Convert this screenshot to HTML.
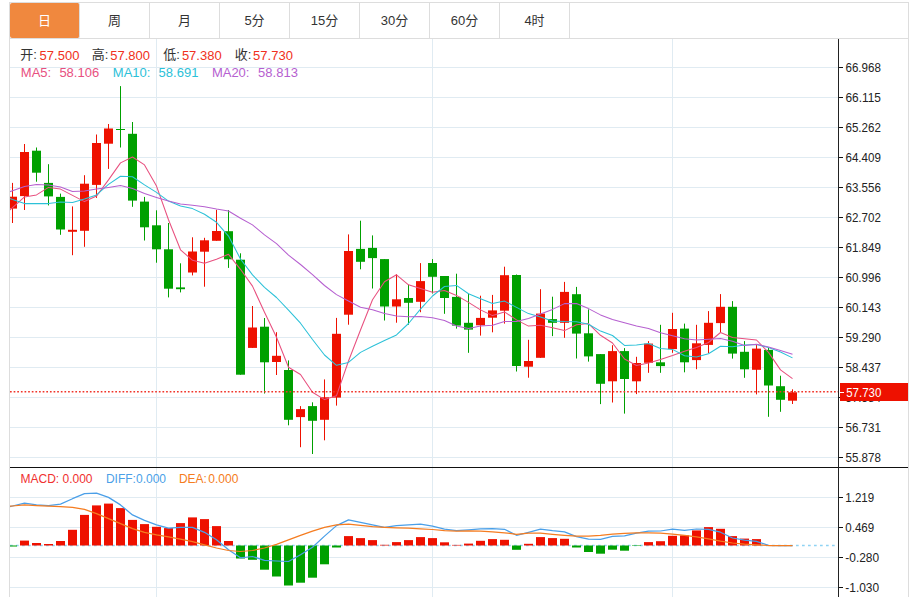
<!DOCTYPE html>
<html lang="zh"><head><meta charset="utf-8"><title>K线图</title>
<style>
html,body{margin:0;padding:0;background:#fff;}
body{width:914px;height:597px;position:relative;overflow:hidden;font-family:"Liberation Sans","Noto Sans CJK SC",sans-serif;}
#frame{position:absolute;left:9px;top:2px;width:898px;height:600px;border:1px solid #ddd;box-sizing:content-box;}
#tabs{position:absolute;left:10px;top:3px;width:898px;height:35px;border-bottom:1px solid #ddd;display:flex;}
#tabs div{width:69px;height:35px;border-right:1px solid #ddd;font-size:13px;line-height:35px;text-align:center;color:#333;}
#tabs div.on{background:#f0883e;color:#fff;border-radius:2px;}
</style></head><body>
<div id="frame"></div>
<div id="tabs"><div class="on">日</div><div>周</div><div>月</div><div>5分</div><div>15分</div><div>30分</div><div>60分</div><div>4时</div></div>
<svg width="914" height="597" viewBox="0 0 914 597" style="position:absolute;left:0;top:0">
<defs><clipPath id="cm"><rect x="10" y="39" width="828" height="428"/></clipPath><clipPath id="cd"><rect x="10" y="468" width="828" height="129"/></clipPath></defs>
<g shape-rendering="crispEdges" stroke="#e0ebf2" stroke-width="1">
<line x1="10" x2="838" y1="67.5" y2="67.5"/>
<line x1="10" x2="838" y1="97.5" y2="97.5"/>
<line x1="10" x2="838" y1="127.5" y2="127.5"/>
<line x1="10" x2="838" y1="157.5" y2="157.5"/>
<line x1="10" x2="838" y1="187.5" y2="187.5"/>
<line x1="10" x2="838" y1="217.5" y2="217.5"/>
<line x1="10" x2="838" y1="247.5" y2="247.5"/>
<line x1="10" x2="838" y1="277.5" y2="277.5"/>
<line x1="10" x2="838" y1="307.5" y2="307.5"/>
<line x1="10" x2="838" y1="337.5" y2="337.5"/>
<line x1="10" x2="838" y1="367.5" y2="367.5"/>
<line x1="10" x2="838" y1="397.5" y2="397.5"/>
<line x1="10" x2="838" y1="427.5" y2="427.5"/>
<line x1="10" x2="838" y1="457.5" y2="457.5"/>
<line x1="10" x2="838" y1="497.5" y2="497.5"/>
<line x1="10" x2="838" y1="527.5" y2="527.5"/>
<line x1="10" x2="838" y1="557.5" y2="557.5"/>
<line x1="10" x2="838" y1="587.5" y2="587.5"/>
<line x1="156.5" x2="156.5" y1="39" y2="597"/>
<line x1="432.5" x2="432.5" y1="39" y2="597"/>
<line x1="672.5" x2="672.5" y1="39" y2="597"/>
</g>
<g clip-path="url(#cm)">
<rect x="12.0" y="182.9" width="1" height="40.1" fill="#ee1100"/>
<rect x="8.0" y="196.7" width="9" height="11.9" fill="#ee1100"/>
<rect x="24.0" y="144.0" width="1" height="66.0" fill="#ee1100"/>
<rect x="20.0" y="152.0" width="9" height="44.1" fill="#ee1100"/>
<rect x="36.0" y="147.5" width="1" height="34.2" fill="#00a000"/>
<rect x="32.0" y="150.7" width="9" height="22.0" fill="#00a000"/>
<rect x="48.0" y="164.2" width="1" height="41.2" fill="#00a000"/>
<rect x="44.0" y="182.9" width="9" height="13.5" fill="#00a000"/>
<rect x="60.0" y="193.6" width="1" height="41.2" fill="#00a000"/>
<rect x="56.0" y="196.9" width="9" height="32.6" fill="#00a000"/>
<rect x="72.0" y="206.4" width="1" height="48.8" fill="#ee1100"/>
<rect x="68.0" y="229.8" width="9" height="2.0" fill="#ee1100"/>
<rect x="84.0" y="175.2" width="1" height="71.6" fill="#ee1100"/>
<rect x="80.0" y="183.7" width="9" height="47.1" fill="#ee1100"/>
<rect x="96.0" y="134.5" width="1" height="63.4" fill="#ee1100"/>
<rect x="92.0" y="143.0" width="9" height="41.9" fill="#ee1100"/>
<rect x="108.0" y="124.0" width="1" height="44.9" fill="#ee1100"/>
<rect x="104.0" y="128.5" width="9" height="15.2" fill="#ee1100"/>
<rect x="120.0" y="86.1" width="1" height="61.4" fill="#00a000"/>
<rect x="116.0" y="129.0" width="9" height="1.0" fill="#00a000"/>
<rect x="132.0" y="122.0" width="1" height="84.8" fill="#00a000"/>
<rect x="128.0" y="133.8" width="9" height="66.8" fill="#00a000"/>
<rect x="144.0" y="196.9" width="1" height="43.6" fill="#00a000"/>
<rect x="140.0" y="201.6" width="9" height="25.7" fill="#00a000"/>
<rect x="156.0" y="210.3" width="1" height="52.4" fill="#00a000"/>
<rect x="152.0" y="225.3" width="9" height="24.0" fill="#00a000"/>
<rect x="168.0" y="223.0" width="1" height="74.4" fill="#00a000"/>
<rect x="164.0" y="249.3" width="9" height="39.4" fill="#00a000"/>
<rect x="180.0" y="263.3" width="1" height="29.1" fill="#00a000"/>
<rect x="176.0" y="287.4" width="9" height="1.8" fill="#00a000"/>
<rect x="192.0" y="237.3" width="1" height="38.1" fill="#ee1100"/>
<rect x="188.0" y="251.5" width="9" height="21.0" fill="#ee1100"/>
<rect x="204.0" y="237.8" width="1" height="48.9" fill="#ee1100"/>
<rect x="200.0" y="240.3" width="9" height="11.4" fill="#ee1100"/>
<rect x="216.0" y="209.8" width="1" height="31.0" fill="#ee1100"/>
<rect x="212.0" y="231.0" width="9" height="9.8" fill="#ee1100"/>
<rect x="228.0" y="210.0" width="1" height="57.9" fill="#00a000"/>
<rect x="224.0" y="231.2" width="9" height="28.1" fill="#00a000"/>
<rect x="240.0" y="253.3" width="1" height="121.4" fill="#00a000"/>
<rect x="236.0" y="259.7" width="9" height="115.0" fill="#00a000"/>
<rect x="252.0" y="306.0" width="1" height="41.9" fill="#ee1100"/>
<rect x="248.0" y="327.5" width="9" height="20.4" fill="#ee1100"/>
<rect x="264.0" y="318.0" width="1" height="75.5" fill="#00a000"/>
<rect x="260.0" y="326.7" width="9" height="35.6" fill="#00a000"/>
<rect x="276.0" y="332.2" width="1" height="42.8" fill="#ee1100"/>
<rect x="272.0" y="355.8" width="9" height="6.2" fill="#ee1100"/>
<rect x="288.0" y="360.4" width="1" height="64.9" fill="#00a000"/>
<rect x="284.0" y="370.0" width="9" height="49.8" fill="#00a000"/>
<rect x="300.0" y="406.1" width="1" height="41.1" fill="#ee1100"/>
<rect x="296.0" y="409.1" width="9" height="8.0" fill="#ee1100"/>
<rect x="312.0" y="402.3" width="1" height="51.7" fill="#00a000"/>
<rect x="308.0" y="406.1" width="9" height="14.7" fill="#00a000"/>
<rect x="324.0" y="379.4" width="1" height="60.9" fill="#ee1100"/>
<rect x="320.0" y="397.3" width="9" height="22.5" fill="#ee1100"/>
<rect x="336.0" y="317.9" width="1" height="87.7" fill="#ee1100"/>
<rect x="332.0" y="333.8" width="9" height="63.8" fill="#ee1100"/>
<rect x="348.0" y="234.4" width="1" height="90.3" fill="#ee1100"/>
<rect x="344.0" y="251.0" width="9" height="63.7" fill="#ee1100"/>
<rect x="360.0" y="220.7" width="1" height="48.6" fill="#00a000"/>
<rect x="356.0" y="248.9" width="9" height="12.9" fill="#00a000"/>
<rect x="372.0" y="235.4" width="1" height="53.1" fill="#00a000"/>
<rect x="368.0" y="247.9" width="9" height="10.2" fill="#00a000"/>
<rect x="384.0" y="259.1" width="1" height="61.4" fill="#00a000"/>
<rect x="380.0" y="259.1" width="9" height="47.4" fill="#00a000"/>
<rect x="396.0" y="274.3" width="1" height="48.4" fill="#ee1100"/>
<rect x="392.0" y="299.3" width="9" height="7.2" fill="#ee1100"/>
<rect x="408.0" y="284.8" width="1" height="39.9" fill="#00a000"/>
<rect x="404.0" y="298.0" width="9" height="4.8" fill="#00a000"/>
<rect x="420.0" y="263.1" width="1" height="49.1" fill="#ee1100"/>
<rect x="416.0" y="281.1" width="9" height="20.7" fill="#ee1100"/>
<rect x="432.0" y="259.1" width="1" height="34.4" fill="#00a000"/>
<rect x="428.0" y="263.0" width="9" height="13.8" fill="#00a000"/>
<rect x="444.0" y="276.0" width="1" height="37.8" fill="#00a000"/>
<rect x="440.0" y="276.0" width="9" height="22.0" fill="#00a000"/>
<rect x="456.0" y="273.7" width="1" height="54.9" fill="#00a000"/>
<rect x="452.0" y="296.9" width="9" height="28.7" fill="#00a000"/>
<rect x="468.0" y="293.7" width="1" height="59.1" fill="#00a000"/>
<rect x="464.0" y="322.8" width="9" height="6.8" fill="#00a000"/>
<rect x="480.0" y="295.7" width="1" height="39.9" fill="#ee1100"/>
<rect x="476.0" y="317.9" width="9" height="7.4" fill="#ee1100"/>
<rect x="492.0" y="294.9" width="1" height="37.4" fill="#ee1100"/>
<rect x="488.0" y="310.4" width="9" height="7.3" fill="#ee1100"/>
<rect x="504.0" y="266.7" width="1" height="56.9" fill="#ee1100"/>
<rect x="500.0" y="275.2" width="9" height="35.5" fill="#ee1100"/>
<rect x="516.0" y="274.5" width="1" height="97.0" fill="#00a000"/>
<rect x="512.0" y="275.0" width="9" height="91.0" fill="#00a000"/>
<rect x="528.0" y="339.8" width="1" height="37.9" fill="#ee1100"/>
<rect x="524.0" y="361.0" width="9" height="5.7" fill="#ee1100"/>
<rect x="540.0" y="289.2" width="1" height="68.6" fill="#ee1100"/>
<rect x="536.0" y="313.6" width="9" height="44.2" fill="#ee1100"/>
<rect x="552.0" y="296.7" width="1" height="39.4" fill="#00a000"/>
<rect x="548.0" y="319.1" width="9" height="3.7" fill="#00a000"/>
<rect x="564.0" y="281.9" width="1" height="55.9" fill="#ee1100"/>
<rect x="560.0" y="291.9" width="9" height="30.9" fill="#ee1100"/>
<rect x="576.0" y="286.9" width="1" height="71.6" fill="#00a000"/>
<rect x="572.0" y="294.2" width="9" height="39.4" fill="#00a000"/>
<rect x="588.0" y="309.4" width="1" height="52.2" fill="#00a000"/>
<rect x="584.0" y="333.3" width="9" height="23.1" fill="#00a000"/>
<rect x="600.0" y="354.0" width="1" height="50.1" fill="#00a000"/>
<rect x="596.0" y="354.1" width="9" height="29.7" fill="#00a000"/>
<rect x="612.0" y="345.2" width="1" height="57.3" fill="#ee1100"/>
<rect x="608.0" y="351.1" width="9" height="30.2" fill="#ee1100"/>
<rect x="624.0" y="348.1" width="1" height="65.5" fill="#00a000"/>
<rect x="620.0" y="351.1" width="9" height="27.9" fill="#00a000"/>
<rect x="636.0" y="356.8" width="1" height="37.3" fill="#ee1100"/>
<rect x="632.0" y="363.0" width="9" height="18.3" fill="#ee1100"/>
<rect x="648.0" y="341.1" width="1" height="31.7" fill="#ee1100"/>
<rect x="644.0" y="343.6" width="9" height="19.2" fill="#ee1100"/>
<rect x="660.0" y="324.8" width="1" height="48.0" fill="#00a000"/>
<rect x="656.0" y="362.3" width="9" height="3.8" fill="#00a000"/>
<rect x="672.0" y="312.8" width="1" height="40.0" fill="#ee1100"/>
<rect x="668.0" y="329.0" width="9" height="20.1" fill="#ee1100"/>
<rect x="684.0" y="323.6" width="1" height="48.7" fill="#00a000"/>
<rect x="680.0" y="328.6" width="9" height="33.7" fill="#00a000"/>
<rect x="696.0" y="324.8" width="1" height="44.4" fill="#ee1100"/>
<rect x="692.0" y="343.3" width="9" height="16.8" fill="#ee1100"/>
<rect x="708.0" y="311.1" width="1" height="41.9" fill="#ee1100"/>
<rect x="704.0" y="322.8" width="9" height="22.1" fill="#ee1100"/>
<rect x="720.0" y="294.1" width="1" height="38.2" fill="#ee1100"/>
<rect x="716.0" y="306.8" width="9" height="16.3" fill="#ee1100"/>
<rect x="732.0" y="301.1" width="1" height="57.5" fill="#00a000"/>
<rect x="728.0" y="306.8" width="9" height="46.8" fill="#00a000"/>
<rect x="744.0" y="341.1" width="1" height="36.7" fill="#00a000"/>
<rect x="740.0" y="351.8" width="9" height="17.5" fill="#00a000"/>
<rect x="756.0" y="344.9" width="1" height="49.5" fill="#ee1100"/>
<rect x="752.0" y="348.6" width="9" height="21.2" fill="#ee1100"/>
<rect x="768.0" y="348.0" width="1" height="68.8" fill="#00a000"/>
<rect x="764.0" y="349.9" width="9" height="35.6" fill="#00a000"/>
<rect x="780.0" y="375.7" width="1" height="36.1" fill="#00a000"/>
<rect x="776.0" y="386.2" width="9" height="13.6" fill="#00a000"/>
<rect x="792.0" y="389.3" width="1" height="14.7" fill="#ee1100"/>
<rect x="788.0" y="392.3" width="9" height="8.4" fill="#ee1100"/>
</g>
<g clip-path="url(#cm)">
<polyline points="0.5,218.3 12.5,207.6 24.5,196.9 36.5,194.9 48.5,187.4 60.5,189.1 72.5,195.4 84.5,201.6 96.5,196.1 108.5,179.9 120.5,162.9 132.5,157.0 144.5,164.9 156.5,186.1 168.5,219.8 180.5,249.8 192.5,260.3 204.5,263.3 216.5,259.2 228.5,254.3 240.5,269.3 252.5,286.1 264.5,312.3 276.5,337.3 288.5,367.3 300.5,374.5 312.5,392.3 324.5,399.6 336.5,395.7 348.5,361.0 360.5,330.0 372.5,299.8 384.5,281.8 396.5,274.8 408.5,284.8 420.5,288.5 432.5,292.3 444.5,290.5 456.5,295.4 468.5,302.4 480.5,309.9 492.5,315.6 504.5,311.9 516.5,319.9 528.5,326.1 540.5,325.3 552.5,327.8 564.5,330.6 576.5,324.8 588.5,323.6 600.5,335.3 612.5,343.0 624.5,359.0 636.5,365.5 648.5,363.0 660.5,359.4 672.5,355.5 684.5,351.2 696.5,347.5 708.5,342.5 720.5,332.5 732.5,337.5 744.5,338.7 756.5,340.0 768.5,352.4 780.5,369.9 792.5,378.6" fill="none" stroke="#e8507f" stroke-width="1.05" stroke-linejoin="round"/>
<polyline points="0.5,195.0 12.5,199.5 24.5,203.6 36.5,203.6 48.5,203.6 60.5,201.9 72.5,202.4 84.5,199.1 96.5,194.9 108.5,184.4 120.5,176.2 132.5,176.7 144.5,184.9 156.5,192.4 168.5,201.1 180.5,206.1 192.5,208.6 204.5,214.3 216.5,222.3 228.5,236.1 240.5,259.0 252.5,274.9 264.5,287.3 276.5,297.5 288.5,310.2 300.5,323.2 312.5,339.5 324.5,355.0 336.5,365.3 348.5,362.4 360.5,352.4 372.5,346.2 384.5,340.5 396.5,334.9 408.5,323.5 420.5,309.2 432.5,296.0 444.5,286.5 456.5,285.4 468.5,293.7 480.5,298.7 492.5,303.6 504.5,301.1 516.5,307.4 528.5,313.6 540.5,316.9 552.5,321.1 564.5,321.6 576.5,321.8 588.5,324.3 600.5,331.1 612.5,335.5 624.5,345.4 636.5,344.9 648.5,343.6 660.5,348.6 672.5,349.4 684.5,355.7 696.5,356.9 708.5,353.7 720.5,346.2 732.5,346.7 744.5,345.0 756.5,344.5 768.5,347.5 780.5,352.0 792.5,357.9" fill="none" stroke="#2cc1d8" stroke-width="1.05" stroke-linejoin="round"/>
<polyline points="0.5,194.9 12.5,190.7 24.5,186.6 36.5,184.6 48.5,184.9 60.5,186.9 72.5,191.4 84.5,191.1 96.5,189.1 108.5,187.4 120.5,185.6 132.5,188.6 144.5,193.6 156.5,197.4 168.5,201.1 180.5,204.1 192.5,205.3 204.5,206.8 216.5,209.1 228.5,211.0 240.5,218.2 252.5,224.9 264.5,234.9 276.5,243.6 288.5,255.2 300.5,264.5 312.5,274.6 324.5,285.5 336.5,294.6 348.5,301.0 360.5,307.2 372.5,309.7 384.5,313.5 396.5,316.0 408.5,316.7 420.5,316.5 432.5,317.7 444.5,320.6 456.5,326.1 468.5,328.6 480.5,326.1 492.5,325.3 504.5,321.4 516.5,321.6 528.5,318.6 540.5,314.1 552.5,309.4 564.5,303.6 576.5,303.6 588.5,308.6 600.5,314.9 612.5,319.4 624.5,322.8 636.5,326.1 648.5,328.6 660.5,332.8 672.5,335.8 684.5,338.7 696.5,340.0 708.5,339.3 720.5,338.6 732.5,341.2 744.5,345.4 756.5,344.3 768.5,347.0 780.5,350.5 792.5,354.2" fill="none" stroke="#b660d0" stroke-width="1.05" stroke-linejoin="round"/>
</g>
<line x1="10" x2="838" y1="391.8" y2="391.8" stroke="#f0352a" stroke-width="1.5" stroke-dasharray="1.7 1.93"/>
<line x1="10" x2="836" y1="545.5" y2="545.5" stroke="#8fd3f4" stroke-width="1.4" stroke-dasharray="2.7 3.3"/>
<g clip-path="url(#cd)">
<rect x="8.0" y="545.5" width="9" height="1.0" fill="#00a000"/>
<rect x="20.0" y="540.6" width="9" height="4.9" fill="#ee1100"/>
<rect x="32.0" y="543.0" width="9" height="2.5" fill="#ee1100"/>
<rect x="44.0" y="544.0" width="9" height="1.5" fill="#ee1100"/>
<rect x="56.0" y="541.0" width="9" height="4.5" fill="#ee1100"/>
<rect x="68.0" y="529.8" width="9" height="15.7" fill="#ee1100"/>
<rect x="80.0" y="514.9" width="9" height="30.6" fill="#ee1100"/>
<rect x="92.0" y="505.4" width="9" height="40.1" fill="#ee1100"/>
<rect x="104.0" y="503.6" width="9" height="41.9" fill="#ee1100"/>
<rect x="116.0" y="508.1" width="9" height="37.4" fill="#ee1100"/>
<rect x="128.0" y="519.9" width="9" height="25.6" fill="#ee1100"/>
<rect x="140.0" y="524.1" width="9" height="21.4" fill="#ee1100"/>
<rect x="152.0" y="526.8" width="9" height="18.7" fill="#ee1100"/>
<rect x="164.0" y="528.1" width="9" height="17.4" fill="#ee1100"/>
<rect x="176.0" y="523.1" width="9" height="22.4" fill="#ee1100"/>
<rect x="188.0" y="517.4" width="9" height="28.1" fill="#ee1100"/>
<rect x="200.0" y="519.1" width="9" height="26.4" fill="#ee1100"/>
<rect x="212.0" y="526.1" width="9" height="19.4" fill="#ee1100"/>
<rect x="224.0" y="541.0" width="9" height="4.5" fill="#ee1100"/>
<rect x="236.0" y="545.5" width="9" height="13.0" fill="#00a000"/>
<rect x="248.0" y="545.5" width="9" height="14.3" fill="#00a000"/>
<rect x="260.0" y="545.5" width="9" height="24.2" fill="#00a000"/>
<rect x="272.0" y="545.5" width="9" height="31.0" fill="#00a000"/>
<rect x="284.0" y="545.5" width="9" height="40.0" fill="#00a000"/>
<rect x="296.0" y="545.5" width="9" height="37.2" fill="#00a000"/>
<rect x="308.0" y="545.5" width="9" height="32.2" fill="#00a000"/>
<rect x="320.0" y="545.5" width="9" height="18.8" fill="#00a000"/>
<rect x="332.0" y="545.5" width="9" height="2.0" fill="#00a000"/>
<rect x="344.0" y="536.1" width="9" height="9.4" fill="#ee1100"/>
<rect x="356.0" y="538.1" width="9" height="7.4" fill="#ee1100"/>
<rect x="368.0" y="540.1" width="9" height="5.4" fill="#ee1100"/>
<rect x="380.0" y="544.8" width="9" height="0.7" fill="#ee1100"/>
<rect x="392.0" y="542.1" width="9" height="3.4" fill="#ee1100"/>
<rect x="404.0" y="540.1" width="9" height="5.4" fill="#ee1100"/>
<rect x="416.0" y="537.1" width="9" height="8.4" fill="#ee1100"/>
<rect x="428.0" y="538.1" width="9" height="7.4" fill="#ee1100"/>
<rect x="440.0" y="542.3" width="9" height="3.2" fill="#ee1100"/>
<rect x="452.0" y="544.9" width="9" height="0.6" fill="#ee1100"/>
<rect x="464.0" y="543.6" width="9" height="1.9" fill="#ee1100"/>
<rect x="476.0" y="540.8" width="9" height="4.7" fill="#ee1100"/>
<rect x="488.0" y="539.1" width="9" height="6.4" fill="#ee1100"/>
<rect x="500.0" y="539.8" width="9" height="5.7" fill="#ee1100"/>
<rect x="512.0" y="545.5" width="9" height="4.3" fill="#00a000"/>
<rect x="524.0" y="543.8" width="9" height="1.7" fill="#ee1100"/>
<rect x="536.0" y="537.1" width="9" height="8.4" fill="#ee1100"/>
<rect x="548.0" y="538.1" width="9" height="7.4" fill="#ee1100"/>
<rect x="560.0" y="538.8" width="9" height="6.7" fill="#ee1100"/>
<rect x="572.0" y="545.5" width="9" height="2.0" fill="#00a000"/>
<rect x="584.0" y="545.5" width="9" height="6.5" fill="#00a000"/>
<rect x="596.0" y="545.5" width="9" height="8.2" fill="#00a000"/>
<rect x="608.0" y="545.5" width="9" height="4.2" fill="#00a000"/>
<rect x="620.0" y="545.5" width="9" height="5.2" fill="#00a000"/>
<rect x="632.0" y="545.5" width="9" height="0.5" fill="#00a000"/>
<rect x="644.0" y="542.1" width="9" height="3.4" fill="#ee1100"/>
<rect x="656.0" y="541.2" width="9" height="4.3" fill="#ee1100"/>
<rect x="668.0" y="535.8" width="9" height="9.7" fill="#ee1100"/>
<rect x="680.0" y="535.4" width="9" height="10.1" fill="#ee1100"/>
<rect x="692.0" y="530.4" width="9" height="15.1" fill="#ee1100"/>
<rect x="704.0" y="527.1" width="9" height="18.4" fill="#ee1100"/>
<rect x="716.0" y="528.8" width="9" height="16.7" fill="#ee1100"/>
<rect x="728.0" y="536.1" width="9" height="9.4" fill="#ee1100"/>
<rect x="740.0" y="538.6" width="9" height="6.9" fill="#ee1100"/>
<rect x="752.0" y="539.1" width="9" height="6.4" fill="#ee1100"/>
</g>
<g clip-path="url(#cd)">
<polyline points="0.5,509.0 12.5,506.0 24.5,503.1 36.5,504.9 48.5,505.6 60.5,504.1 72.5,498.7 84.5,493.7 96.5,493.2 108.5,497.4 120.5,504.9 132.5,514.9 144.5,520.4 156.5,524.8 168.5,528.1 180.5,527.3 192.5,527.3 204.5,532.3 216.5,539.8 228.5,549.8 240.5,557.8 252.5,556.5 264.5,560.3 276.5,561.0 288.5,561.5 300.5,554.8 312.5,547.3 324.5,536.1 336.5,525.6 348.5,519.9 360.5,522.3 372.5,524.8 384.5,527.3 396.5,525.6 408.5,524.8 420.5,524.1 432.5,526.1 444.5,529.1 456.5,530.6 468.5,529.8 480.5,528.8 492.5,528.6 504.5,529.3 516.5,535.3 528.5,532.3 540.5,529.1 552.5,530.6 564.5,531.8 576.5,536.6 588.5,539.1 600.5,539.4 612.5,536.4 624.5,535.9 636.5,533.2 648.5,531.2 660.5,531.0 672.5,529.1 684.5,530.4 696.5,529.0 708.5,529.3 720.5,532.2 732.5,538.0 744.5,540.2 756.5,541.3 768.5,545.3 780.5,545.6 792.5,545.5" fill="none" stroke="#4a9fe8" stroke-width="1.25" stroke-linejoin="round"/>
<polyline points="0.5,507.0 12.5,506.0 24.5,504.9 36.5,505.6 48.5,506.1 60.5,506.6 72.5,507.4 84.5,509.4 96.5,513.6 108.5,518.6 120.5,523.6 132.5,528.6 144.5,532.3 156.5,534.8 168.5,536.8 180.5,539.1 192.5,541.6 204.5,544.8 216.5,548.0 228.5,550.5 240.5,551.5 252.5,550.5 264.5,548.0 276.5,544.3 288.5,539.8 300.5,535.3 312.5,531.1 324.5,527.3 336.5,524.8 348.5,524.1 360.5,525.3 372.5,526.6 384.5,527.3 396.5,527.8 408.5,528.1 420.5,528.8 432.5,529.5 444.5,530.6 456.5,531.1 468.5,530.8 480.5,531.1 492.5,531.8 504.5,532.8 516.5,534.3 528.5,533.1 540.5,533.1 552.5,534.3 564.5,535.3 576.5,536.1 588.5,536.1 600.5,535.3 612.5,534.2 624.5,533.4 636.5,532.9 648.5,532.8 660.5,533.2 672.5,534.1 684.5,535.4 696.5,536.8 708.5,538.9 720.5,541.2 732.5,543.0 744.5,544.1 756.5,544.8 768.5,545.5 780.5,545.5 792.5,545.5" fill="none" stroke="#f57c20" stroke-width="1.25" stroke-linejoin="round"/>
</g>
<g shape-rendering="crispEdges">
<rect x="10" y="467" width="898" height="1" fill="#111"/>
<rect x="838" y="39" width="1" height="558" fill="#222"/>
<rect x="839" y="67" width="4" height="1" fill="#111"/>
<rect x="839" y="97" width="4" height="1" fill="#111"/>
<rect x="839" y="127" width="4" height="1" fill="#111"/>
<rect x="839" y="157" width="4" height="1" fill="#111"/>
<rect x="839" y="187" width="4" height="1" fill="#111"/>
<rect x="839" y="217" width="4" height="1" fill="#111"/>
<rect x="839" y="247" width="4" height="1" fill="#111"/>
<rect x="839" y="277" width="4" height="1" fill="#111"/>
<rect x="839" y="307" width="4" height="1" fill="#111"/>
<rect x="839" y="337" width="4" height="1" fill="#111"/>
<rect x="839" y="367" width="4" height="1" fill="#111"/>
<rect x="839" y="397" width="4" height="1" fill="#111"/>
<rect x="839" y="427" width="4" height="1" fill="#111"/>
<rect x="839" y="457" width="4" height="1" fill="#111"/>
<rect x="839" y="497" width="4" height="1" fill="#111"/>
<rect x="839" y="527" width="4" height="1" fill="#111"/>
<rect x="839" y="557" width="4" height="1" fill="#111"/>
<rect x="839" y="587" width="4" height="1" fill="#111"/>
</g>
<g font-family="'Liberation Sans',sans-serif" font-size="12.6" fill="#222">
<text x="845.5" y="72" textLength="35.4" lengthAdjust="spacingAndGlyphs">66.968</text>
<text x="845.5" y="102" textLength="35.4" lengthAdjust="spacingAndGlyphs">66.115</text>
<text x="845.5" y="132" textLength="35.4" lengthAdjust="spacingAndGlyphs">65.262</text>
<text x="845.5" y="162" textLength="35.4" lengthAdjust="spacingAndGlyphs">64.409</text>
<text x="845.5" y="192" textLength="35.4" lengthAdjust="spacingAndGlyphs">63.556</text>
<text x="845.5" y="222" textLength="35.4" lengthAdjust="spacingAndGlyphs">62.702</text>
<text x="845.5" y="252" textLength="35.4" lengthAdjust="spacingAndGlyphs">61.849</text>
<text x="845.5" y="282" textLength="35.4" lengthAdjust="spacingAndGlyphs">60.996</text>
<text x="845.5" y="312" textLength="35.4" lengthAdjust="spacingAndGlyphs">60.143</text>
<text x="845.5" y="342" textLength="35.4" lengthAdjust="spacingAndGlyphs">59.290</text>
<text x="845.5" y="372" textLength="35.4" lengthAdjust="spacingAndGlyphs">58.437</text>
<text x="845.5" y="402" textLength="35.4" lengthAdjust="spacingAndGlyphs">57.584</text>
<text x="845.5" y="432" textLength="35.4" lengthAdjust="spacingAndGlyphs">56.731</text>
<text x="845.5" y="462" textLength="35.4" lengthAdjust="spacingAndGlyphs">55.878</text>
<text x="845.3" y="502" textLength="28.9" lengthAdjust="spacingAndGlyphs">1.219</text>
<text x="845.3" y="532" textLength="28.9" lengthAdjust="spacingAndGlyphs">0.469</text>
<text x="845.3" y="562" textLength="33.8" lengthAdjust="spacingAndGlyphs">-0.280</text>
<text x="845.3" y="592" textLength="33.8" lengthAdjust="spacingAndGlyphs">-1.030</text>
</g>
<rect x="840" y="383" width="68" height="18" fill="#ee1100" shape-rendering="crispEdges"/>
<rect x="840" y="392" width="4" height="1" fill="#fff" shape-rendering="crispEdges"/>
<text x="846.2" y="396.8" font-family="'Liberation Sans',sans-serif" font-size="12.6" fill="#fff" textLength="35.2" lengthAdjust="spacingAndGlyphs">57.730</text>
<g font-family="'Liberation Sans','Noto Sans CJK SC',sans-serif" font-size="13">
<text x="20.3" y="58.9" fill="#333">开:</text><text x="39.6" y="59.6" fill="#f03020">57.500</text>
<text x="91.8" y="58.9" fill="#333">高:</text><text x="110.3" y="59.6" fill="#f03020">57.800</text>
<text x="163.3" y="58.9" fill="#333">低:</text><text x="181.9" y="59.6" fill="#f03020">57.380</text>
<text x="234.8" y="58.9" fill="#333">收:</text><text x="253.1" y="59.6" fill="#f03020">57.730</text>
<text x="20.8" y="77.4" fill="#e8507f">MA5:</text><text x="59.4" y="77.4" fill="#e8507f">58.106</text>
<text x="112.8" y="77.4" fill="#2cc1d8">MA10:</text><text x="158.6" y="77.4" fill="#2cc1d8">58.691</text>
<text x="211.9" y="77.4" fill="#b660d0">MA20:</text><text x="258.1" y="77.4" fill="#b660d0">58.813</text>
</g>
<g font-family="'Liberation Sans','Noto Sans CJK SC',sans-serif" font-size="12">
<text x="20.5" y="482.9" fill="#f03030">MACD:</text><text x="62.5" y="482.9" fill="#f03030">0.000</text>
<text x="105.9" y="482.9" fill="#4a9fe8">DIFF:</text><text x="136" y="482.9" fill="#4a9fe8">0.000</text>
<text x="178.9" y="482.9" fill="#f57c20">DEA:</text><text x="208.3" y="482.9" fill="#f57c20">0.000</text>
</g>
</svg>
</body></html>
